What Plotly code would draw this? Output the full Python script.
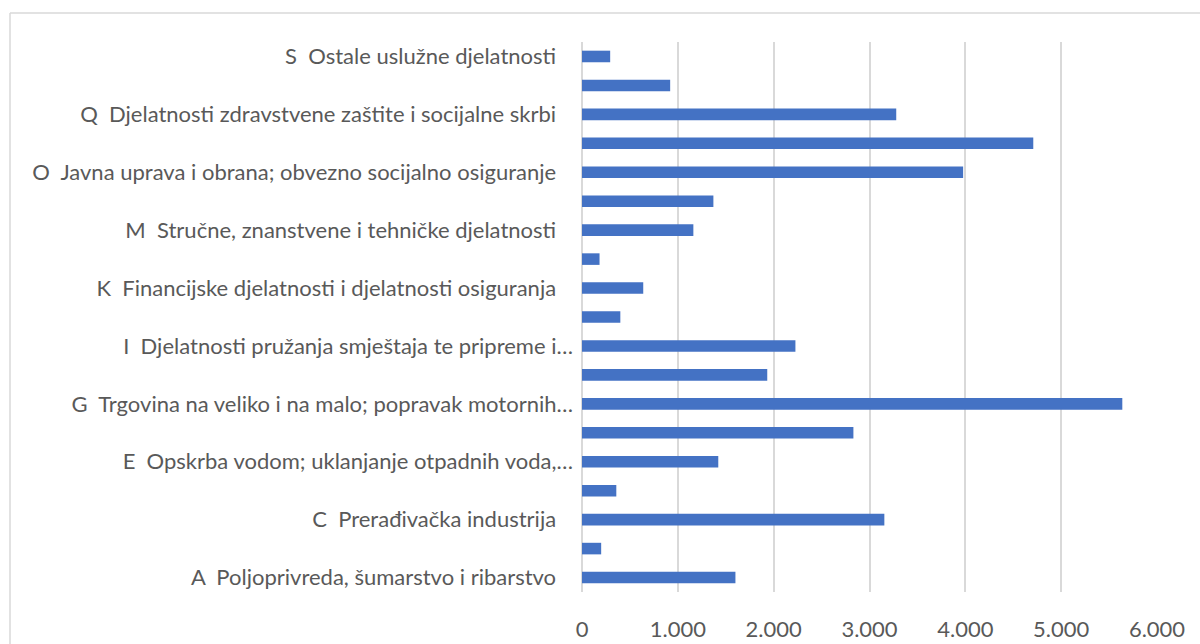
import plotly.graph_objects as go

# Sections (bottom to top, as drawn)
codes = ["A", "B", "C", "D", "E", "F", "G", "H", "I", "J",
         "K", "L", "M", "N", "O", "P", "Q", "R", "S"]
tick_labels = [
    "A\u00a0 Poljoprivreda, šumarstvo i ribarstvo",
    "",
    "C\u00a0 Prerađivačka industrija",
    "",
    "E\u00a0 Opskrba vodom; uklanjanje otpadnih voda,…",
    "",
    "G\u00a0 Trgovina na veliko i na malo; popravak motornih…",
    "",
    "I\u00a0 Djelatnosti pružanja smještaja te pripreme i…",
    "",
    "K\u00a0 Financijske djelatnosti i djelatnosti osiguranja",
    "",
    "M\u00a0 Stručne, znanstvene i tehničke djelatnosti",
    "",
    "O\u00a0 Javna uprava i obrana; obvezno socijalno osiguranje",
    "",
    "Q\u00a0 Djelatnosti zdravstvene zaštite i socijalne skrbi",
    "",
    "S\u00a0 Ostale uslužne djelatnosti",
]
truncated = [False, False, False, False, True, False, True, False, True, False,
             False, False, False, False, False, False, False, False, False]
values = [1601, 200, 3155, 358, 1422, 2832, 5638, 1933, 2227, 400,
          639, 183, 1162, 1371, 3977, 4709, 3279, 920, 294]
x_ticks = [0, 1000, 2000, 3000, 4000, 5000, 6000]

W, H = 1200, 644
L, R, T, B = 582, 43, 42, 52

display = [t if (t == "" or tr) else t + "\u00a0\u00a0\u00a0" for t, tr in zip(tick_labels, truncated)]

fig = go.Figure(go.Bar(
    x=values, y=codes, orientation="h",
    marker=dict(color="#4472C4", line=dict(width=0)),
    width=0.4,
    hoverinfo="x+y",
))

pw = W - L - R
ph = H - T - B
bx0 = (10 - L) / pw
bx1 = (W + 20 - L) / pw
by_top = (H - 13 - B) / ph
by_bot = (-20 - B) / ph
border = dict(color="#d9d9d9", width=1.5)
fig.add_shape(type="line", xref="paper", yref="paper",
              x0=bx0, x1=bx1, y0=by_top, y1=by_top, line=border, layer="below")
fig.add_shape(type="line", xref="paper", yref="paper",
              x0=bx0, x1=bx0, y0=by_bot, y1=by_top, line=border, layer="below")

fig.update_layout(
    width=W, height=H,
    margin=dict(l=L, r=R, t=T, b=B, pad=0),
    paper_bgcolor="white", plot_bgcolor="white",
    separators=",.",
    showlegend=False,
    font=dict(family="Lato, 'Open Sans', sans-serif", size=22, color="#595959"),
    xaxis=dict(range=[0, 6000], tickvals=x_ticks, tickformat=",d",
               showgrid=True, gridcolor="#d9d9d9", gridwidth=1.5,
               zeroline=True, zerolinecolor="#d9d9d9", zerolinewidth=1.5,
               showline=False, ticks="", ticklabelstandoff=22, automargin=False,
               tickfont=dict(size=22, color="#595959"), fixedrange=True),
    yaxis=dict(type="category", categoryorder="array", categoryarray=codes,
               tickvals=codes, ticktext=display, range=[-0.5, 18.5],
               showgrid=False, zeroline=False, showline=False, ticks="",
               ticklabelstandoff=8, automargin=False,
               tickfont=dict(size=22, color="#595959"), fixedrange=True),
)

fig.write_html("out.html", config={"displayModeBar": False},
               post_script="document.body.style.margin='0';document.body.style.overflow='hidden';")
